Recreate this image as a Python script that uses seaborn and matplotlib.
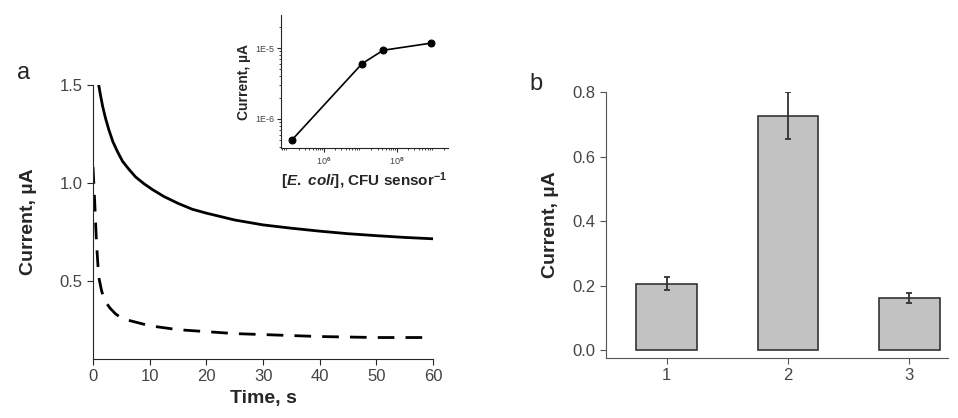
import numpy as np
import pandas as pd
import matplotlib
matplotlib.use('Agg')
import matplotlib.pyplot as plt
import seaborn as sns

sns.set_style('ticks')
plt.rcParams['font.family'] = ['Liberation Sans', 'DejaVu Sans']
plt.rcParams['mathtext.fontset'] = 'custom'
plt.rcParams['mathtext.it'] = 'Liberation Sans:italic:bold'
plt.rcParams['mathtext.rm'] = 'Liberation Sans:bold'

# ── data ───────────────────────────────────────────
time_solid = [1.0, 1.3, 1.7, 2.2, 2.8, 3.5, 4.3, 5.2, 6.3, 7.5, 9.0, 10.5, 12.5, 15.0, 17.5, 20.0, 25.0, 30.0, 35.0, 40.0, 45.0, 50.0, 55.0, 60.0]
curr_solid = [1.50, 1.45, 1.39, 1.33, 1.27, 1.21, 1.16, 1.11, 1.07, 1.03, 0.995, 0.965, 0.93, 0.895, 0.865, 0.845, 0.81, 0.785, 0.768, 0.753, 0.740, 0.730, 0.721, 0.714]

time_dash = [0.0, 0.3, 0.6, 1.0, 1.5, 2.0, 3.0, 4.0, 5.0, 6.0, 8.0, 10.0, 15.0, 20.0, 25.0, 30.0, 40.0, 50.0, 60.0]
curr_dash = [1.08, 0.90, 0.70, 0.52, 0.45, 0.40, 0.36, 0.33, 0.31, 0.30, 0.285, 0.27, 0.25, 0.24, 0.23, 0.225, 0.215, 0.21, 0.21]

ecoli_conc = [1.3e5, 1.1e7, 4.2e7, 8.5e8]
ecoli_curr = [5.0e-7, 6.0e-6, 9.3e-6, 1.17e-5]

bar_labels = ['1', '2', '3']
bar_values = [0.205, 0.727, 0.161]
bar_errors = [0.020, 0.073, 0.016]

# ── figure ─────────────────────────────────────────
fig = plt.figure(figsize=(9.58, 4.18), dpi=100)
tick_col = '#444444'

# panel a
ax_a = fig.add_axes([0.0971, 0.141, 0.355, 0.656])
sns.lineplot(x=time_solid, y=curr_solid, ax=ax_a, color='black', linewidth=2.0)
sns.lineplot(x=time_dash, y=curr_dash, ax=ax_a, color='black', linewidth=2.0)
ax_a.lines[1].set_dashes([6, 4])
ax_a.set_xlim(0, 60)
ax_a.set_ylim(0.1, 1.5)
ax_a.set_xticks([0, 10, 20, 30, 40, 50, 60])
ax_a.set_yticks([0.5, 1.0, 1.5])
ax_a.set_xlabel('Time, s', fontsize=14, fontweight='bold', labelpad=4)
ax_a.set_ylabel('Current, µA', fontsize=14, fontweight='bold', labelpad=16)
ax_a.tick_params(labelsize=12, labelcolor=tick_col, length=4)
sns.despine(ax=ax_a)
fig.text(0.018, 0.81, 'a', fontsize=17)

# inset
ax_in = fig.add_axes([0.2933, 0.646, 0.1743, 0.318])
sns.lineplot(x=ecoli_conc, y=ecoli_curr, ax=ax_in, color='black', linewidth=1.2,
             marker='o', markersize=5, markeredgecolor='black')
ax_in.set_xscale('log')
ax_in.set_yscale('log')
ax_in.set_xlim(10**4.82, 10**9.4)
ax_in.set_ylim(10**-6.41, 10**-4.535)
ax_in.set_xticks([1e6, 1e8])
ax_in.set_xticklabels(['10$^6$', '10$^8$'])
ax_in.set_yticks([1e-6, 1e-5])
ax_in.set_yticklabels(['1E-6', '1E-5'])
ax_in.tick_params(labelsize=6.5, labelcolor=tick_col, length=3, pad=2)
ax_in.tick_params(which='minor', length=1.5)
ax_in.set_ylabel('Current, µA', fontsize=10, fontweight='bold', labelpad=3)
ax_in.set_xlabel(r'$\mathit{[E.\ coli]}$, CFU sensor$^{\mathrm{-1}}$', fontsize=11,
                 fontweight='bold', labelpad=3)
sns.despine(ax=ax_in)

# panel b
ax_b = fig.add_axes([0.6326, 0.1435, 0.357, 0.636])
df_b = pd.DataFrame({'group': bar_labels, 'current': bar_values})
sns.barplot(data=df_b, x='group', y='current', ax=ax_b, color='#c2c2c2',
            edgecolor='#333333', linewidth=1.2, width=0.5, errorbar=None, saturation=1)
ax_b.errorbar(range(len(bar_values)), bar_values, yerr=bar_errors, fmt='none',
              ecolor='#333333', elinewidth=1.3, capsize=2, capthick=1.3)
ax_b.set_xlim(-0.5, 2.32)
ax_b.set_ylim(-0.025, 0.8)
ax_b.set_yticks([0.0, 0.2, 0.4, 0.6, 0.8])
ax_b.set_xlabel('')
ax_b.set_ylabel('Current, µA', fontsize=14, fontweight='bold', labelpad=10)
ax_b.tick_params(labelsize=12, labelcolor=tick_col, length=4, color='#555555')
for s in ['left', 'bottom']:
    ax_b.spines[s].set_color('#555555')
sns.despine(ax=ax_b)
fig.text(0.553, 0.785, 'b', fontsize=17)

plt.savefig('out.png', dpi=100)
